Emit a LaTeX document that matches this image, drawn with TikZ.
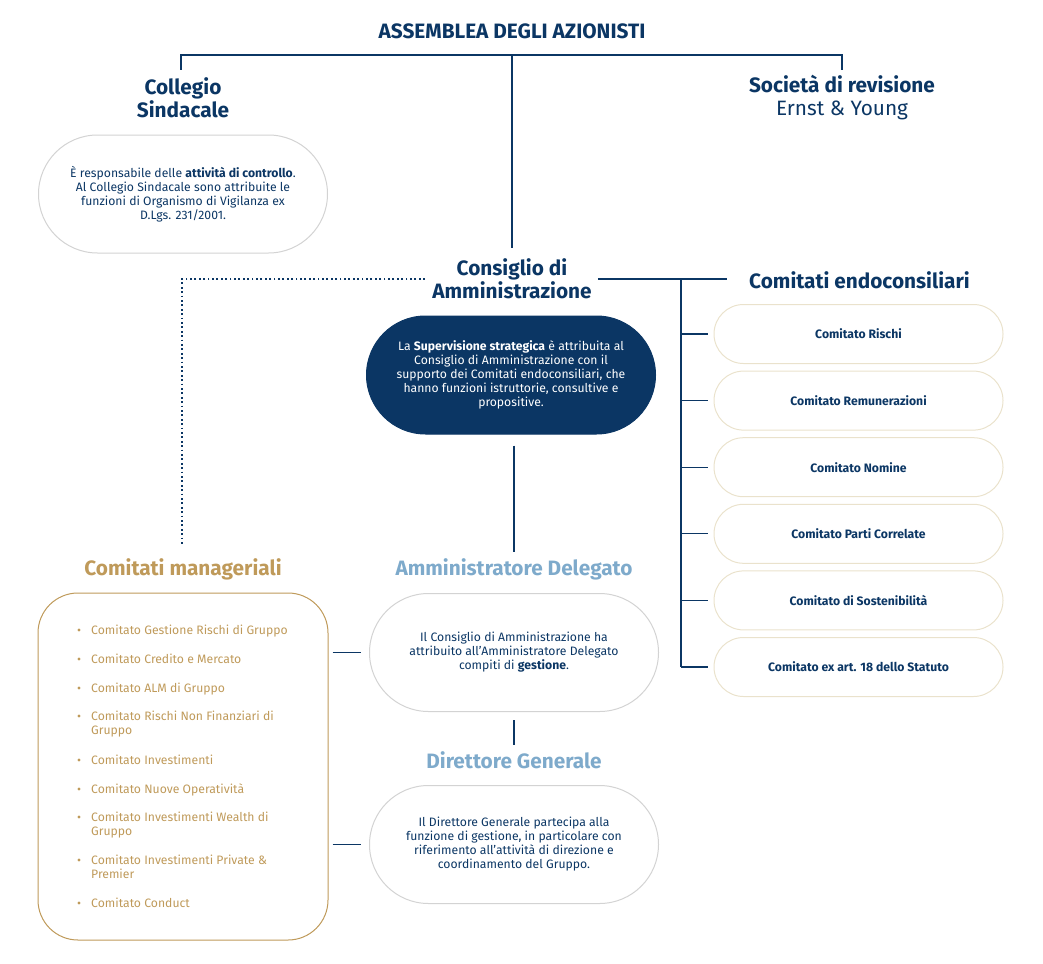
\documentclass[tikz,border=0pt]{standalone}
\usepackage{fontspec}
\setmainfont{Fira Sans}
\usetikzlibrary{positioning}

\definecolor{navy}{HTML}{0B3664}
\definecolor{celeste}{HTML}{7EAACB}
\definecolor{oro}{HTML}{BF9A5A}
\definecolor{grigio}{HTML}{D3D3D3}
\definecolor{beige}{HTML}{EAE2CC}

\tikzset{
  titolo/.style={font=\bfseries\fontsize{20.8}{23}\selectfont, text=navy, align=center, inner sep=0pt},
  testo/.style={font=\fontsize{12.2}{14}\selectfont, text=navy, align=center},
  pillola/.style={draw=grigio, line width=1pt, rounded corners=59pt, minimum width=289pt, minimum height=118pt, inner sep=0pt},
  comitato/.style={draw=beige, line width=1pt, rounded corners=29.5pt, minimum width=289pt, minimum height=59pt, font=\bfseries\fontsize{12.2}{14}\selectfont, text=navy},
  voce/.style={font=\fontsize{12.2}{14}\selectfont, text=oro, align=left, anchor=base west, inner sep=0pt},
  linea/.style={navy, line width=1.2pt},
  puntini/.style={navy, line width=1.6pt, dash pattern=on 1.8pt off 2.6pt},
}

\begin{document}
\begin{tikzpicture}[x=1pt, y=-1pt]
\useasboundingbox (0,0) rectangle (1043,963);

% vertice
\node[titolo] (assemblea) at (512,31) {ASSEMBLEA DEGLI AZIONISTI};
\coordinate (busL) at (181,55);
\coordinate (busR) at (842,55);
\coordinate (busC) at (512,55);
\draw[linea] ([yshift=-15pt]busL) -- (busL) -- (busR) -- ([yshift=-15pt]busR);

\node[titolo] (collegio) at (183,98) {Collegio\\Sindacale};
\node[titolo] (revisione) at (842,98) {Società di revisione\\{\mdseries Ernst \& Young}};

\node[pillola, testo] (collegiobox) at (183,194) {È responsabile delle \textbf{attività di controllo}.\\Al Collegio Sindacale sono attribuite le\\funzioni di Organismo di Vigilanza ex\\D.Lgs. 231/2001.};

% consiglio
\node[titolo] (cda) at (512,279) {Consiglio di\\Amministrazione};
\draw[linea] (busC) -- ([yshift=11pt]cda.north);

\node[pillola, testo, fill=navy, draw=navy, text=white] (cdabox) at (511,375) {La \textbf{Supervisione strategica} è attribuita al\\Consiglio di Amministrazione con il\\supporto dei Comitati endoconsiliari, che\\hanno funzioni istruttorie, consultive e\\propositive.};

% comitati endoconsiliari
\node[titolo, anchor=west] (endo) at (749,280) {Comitati endoconsiliari};
\coordinate (endotop) at (681,279);
\draw[linea] ([xshift=6pt]cda.east |- endotop) -- ([xshift=-22pt]endo.west |- endotop);

\foreach \i/\nome in {0/{Comitato Rischi}, 1/{Comitato Remunerazioni}, 2/{Comitato Nomine}, 3/{Comitato Parti Correlate}, 4/{Comitato di Sostenibilità}, 5/{Comitato ex art. 18 dello Statuto}}{
  \node[comitato] (endo\i) at (858.5,{334+66.6*\i}) {\nome};
  \draw[linea] (endotop |- endo\i.west) -- ([xshift=-6pt]endo\i.west);
}
\draw[linea] (endotop) -- (endotop |- endo5.west);

% comitati manageriali
\node[titolo, text=oro] (manag) at (183,569) {Comitati manageriali};
\node[draw=oro, line width=1pt, rounded corners=40pt, minimum width=290pt, minimum height=347pt] (managbox) at (183,766.5) {};
\coordinate (puntiA) at (425,279);
\coordinate (puntiB) at (182,279);
\draw[puntini] (puntiA) -- (puntiB) -- ([yshift=12pt]puntiB |- manag.north);

\foreach \y/\n/\voce in {634/1/{Comitato Gestione Rischi di Gruppo}, 663/1/{Comitato Credito e Mercato}, 692/1/{Comitato ALM di Gruppo}, 720/2/{Comitato Rischi Non Finanziari di\\Gruppo}, 764/1/{Comitato Investimenti}, 793/1/{Comitato Nuove Operatività}, 821/2/{Comitato Investimenti Wealth di\\Gruppo}, 864/2/{Comitato Investimenti Private \&\\Premier}, 907/1/{Comitato Conduct}}{
  \node[voce] at (91,{\y+14*(\n-1)}) {\voce};
  \fill[oro] (79,{\y-4}) circle (1.7pt);
}

% amministratore delegato
\node[titolo, text=celeste] (ad) at (514,569) {Amministratore Delegato};
\draw[linea] ([yshift=-11pt]cdabox.south -| ad.north) -- ([yshift=6pt]ad.north);
\node[pillola, testo] (adbox) at (514,652.5) {Il Consiglio di Amministrazione ha\\attribuito all’Amministratore Delegato\\compiti di \textbf{gestione}.};
\draw[linea] ([xshift=4pt]managbox.east |- adbox.west) -- ([xshift=-8pt]adbox.west);

% direttore generale
\node[titolo, text=celeste] (dg) at (514,760) {Direttore Generale};
\draw[linea] ([yshift=-8pt]adbox.south) -- ([yshift=6pt]dg.north);
\node[pillola, testo] (dgbox) at (514,844.5) {Il Direttore Generale partecipa alla\\funzione di gestione, in particolare con\\riferimento all’attività di direzione e\\coordinamento del Gruppo.};
\draw[linea] ([xshift=4pt]managbox.east |- dgbox.west) -- ([xshift=-8pt]dgbox.west);

\end{tikzpicture}
\end{document}
